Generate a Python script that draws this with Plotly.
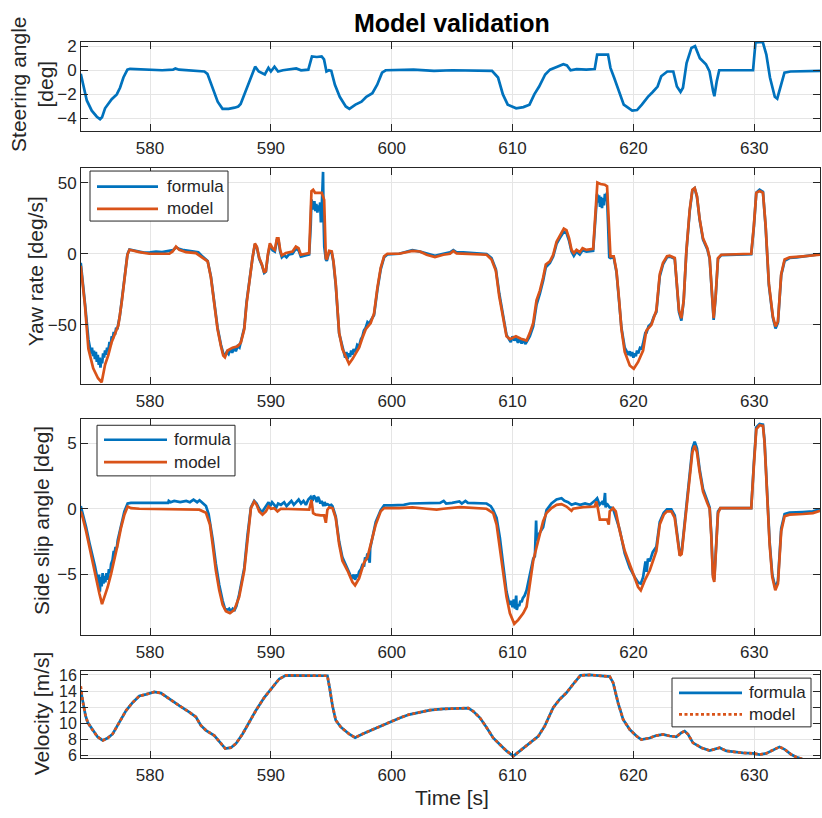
import plotly.graph_objects as go

# ---------------- data ----------------
steer_t = [574.27, 574.50, 574.77, 575.18, 575.60, 575.87, 576.03, 576.28, 576.55, 576.83, 577.25, 577.52,
           577.80, 578.13, 578.35, 579.50, 581.00, 581.90, 582.10, 582.40, 583.50, 584.50, 584.75, 585.10,
           585.60, 586.00, 586.50, 587.00, 587.30, 587.50, 587.90, 588.30, 588.70, 589.00, 589.50, 589.80,
           590.00, 590.30, 590.60, 591.00, 592.10, 592.50, 593.10, 593.40, 593.80, 594.20, 594.40, 594.60,
           594.80, 595.00, 595.30, 595.70, 596.20, 596.50, 597.00, 597.50, 597.90, 598.40, 598.80, 599.20,
           599.50, 601.80, 603.50, 605.00, 608.30, 608.80, 609.20, 609.60, 610.30, 610.90, 611.40, 611.80,
           612.20, 612.70, 613.10, 613.70, 614.20, 614.50, 614.80, 615.30, 616.10, 616.80, 617.00, 617.90,
           618.10, 618.40, 618.80, 619.20, 619.90, 620.30, 620.70, 621.20, 621.60, 622.00, 622.30, 622.80,
           623.30, 623.60, 623.90, 624.10, 624.40, 624.80, 625.10, 625.50, 626.00, 626.30, 626.60, 626.70,
           626.90, 627.10, 629.90, 630.10, 630.70, 631.00, 631.30, 631.70, 631.90, 632.20, 632.50, 633.00,
           635.44]
steer_formula = [-0.3, -1.2, -2.5, -3.35, -3.85, -4.05, -3.9, -3.15, -2.8, -2.4, -2.0, -1.45,
                 -0.6, 0.05, 0.12, 0.05, 0.0, 0.05, 0.15, 0.05, 0.0, -0.1, -0.3, -1.2,
                 -2.6, -3.2, -3.2, -3.1, -3.0, -2.8, -1.75, -0.6, 0.3, -0.1, -0.35, 0.2,
                 -0.1, 0.3, -0.1, 0.0, 0.15, 0.0, 0.05, 1.15, 1.1, 1.15, 0.9, -0.1,
                 0.0, -0.05, -1.2, -2.2, -3.0, -3.2, -2.85, -2.6, -2.2, -1.9, -1.2, -0.2,
                 0.0, 0.05, -0.05, 0.0, -0.05, -0.6, -2.0, -2.85, -3.15, -3.05, -2.85, -2.0,
                 -1.35, -0.35, 0.05, 0.3, 0.5, 0.4, 0.0, 0.1, 0.05, 0.1, 1.3, 1.3,
                 0.2, -0.6, -1.75, -2.85, -3.35, -3.3, -2.85, -2.2, -1.8, -1.35, -0.5, -0.1,
                 -0.1, -1.35, -1.8, -1.45, 0.6, 1.85, 2.0, 1.0, 0.5, -0.1, -1.75, -2.15,
                 -0.9, 0.0, 0.0, 2.3, 2.35, 1.3, -0.6, -2.2, -2.35, -1.2, -0.2, -0.1,
                 -0.05]

yaw_model_t = [574.27, 574.62, 574.90, 575.30, 575.70, 576.00, 576.28, 576.55, 576.83, 577.10, 577.38, 577.66,
               577.94, 578.13, 578.30, 578.60, 579.12, 579.94, 581.60, 581.87, 582.15, 582.42, 582.98, 583.80,
               584.35, 584.77, 585.04, 585.32, 585.59, 585.87, 586.06, 586.20, 586.42, 586.83, 587.25, 587.52,
               587.80, 587.99, 588.26, 588.48, 588.68, 588.84, 589.04, 589.26, 589.45, 589.59, 589.75, 589.92,
               590.14, 590.33, 590.50, 590.63, 590.77, 590.91, 591.24, 591.79, 592.07, 592.29, 592.48, 592.75,
               593.17, 593.36, 593.50, 593.66, 594.21, 594.41, 594.55, 594.63, 594.82, 595.04, 595.18, 595.37,
               595.65, 595.92, 596.20, 596.47, 596.75, 597.02, 597.30, 597.58, 597.85, 598.26, 598.54, 598.82,
               599.09, 599.37, 599.64, 600.61, 601.43, 601.71, 602.34, 602.89, 603.58, 604.27, 604.82, 605.10,
               605.37, 605.92, 607.85, 608.26, 608.62, 608.90, 609.17, 609.50, 609.78, 610.28, 610.69, 611.16,
               611.43, 611.71, 611.98, 612.26, 612.53, 612.75, 613.09, 613.36, 613.64, 613.91, 614.24, 614.46,
               614.68, 614.88, 615.07, 615.29, 615.56, 615.79, 616.12, 616.67, 616.86, 617.02, 617.27, 617.63,
               617.82, 617.96, 618.10, 618.37, 618.60, 618.82, 619.01, 619.28, 619.70, 620.03, 620.39, 620.80,
               621.07, 621.49, 621.90, 622.18, 622.45, 622.78, 623.00, 623.42, 623.55, 623.77, 623.97, 624.16,
               624.38, 624.66, 624.88, 625.07, 625.26, 625.48, 625.76, 626.12, 626.31, 626.50, 626.64, 626.80,
               627.00, 627.27, 629.75, 629.97, 630.17, 630.44, 630.72, 630.94, 631.21, 631.54, 631.76, 631.96,
               632.23, 632.51, 632.92, 634.02, 635.12, 635.44]
yaw_model = [-8.5, -36.5, -66.7, -80.5, -87.5, -90.3, -78, -71.3, -62, -56.2, -50.4, -34,
             -13.4, -0.7, 2.8, 2.1, 1.1, 0.0, 0.0, 1.6, 5.0, 2.7, 1.1, 0.5,
             -2.5, -5.3, -16.7, -37, -53, -65, -71.6, -72.8, -68, -66, -65, -62.5,
             -53, -35, -16.7, -3, 7.3, 5.0, -3, -7.5, -13.3, -12, -0.7, 7.3,
             3.9, 2.7, 10.8, 10.8, 2.7, -1.1, 0.5, 1.6, 5.0, 3.9, -0.7, -0.2,
             0.5, 44, 45, 42.8, 42.8, 38, -3, -4, 2, 1.6, -5.3, -21,
             -55.6, -67, -72.8, -77.3, -74, -70.5, -66, -59, -53, -48.7, -42, -23.6,
             -9.8, -1.8, 0.0, 0.0, 1.1, 2.0, 1.6, -0.7, -2.3, -0.7, 0.0, 2.0,
             0.2, 0.0, -0.7, -4, -12, -30, -44, -58, -60, -58, -59.7, -61,
             -55.6, -48.7, -32.7, -25.9, -16.7, -7.5, -5.3, -0.7, 8.5, 13, 17.6, 16.5,
             10.8, 2.7, 0.5, 2.7, 1.1, 3.9, 2.7, 3.4, 31, 50, 49, 48.5,
             47.4, 20, -1.8, -1.8, -12, -32.7, -53, -69, -78.5, -80.8, -76, -68,
             -54, -49.9, -39.6, -14.4, -6.4, -1.8, -1.4, -3, -16.7, -39.6, -45.3, -32.7,
             1.6, 31, 45, 46.2, 40.5, 24.5, 10.8, 3.9, -3, -30.4, -45.3, -30.4,
             -3, -0.7, 0.0, 20, 42.8, 44, 42.8, 20, -21, -44, -51, -47.6,
             -14.4, -4, -2.5, -1.8, -1.1, -0.7]

yaw_formula_t = [574.27, 574.44, 574.62, 574.90, 575.05, 575.12, 575.20, 575.28, 575.36, 575.44, 575.52, 575.60,
                 575.68, 575.76, 575.84, 575.90, 575.96, 576.04, 576.12, 576.20, 576.28, 576.36, 576.45, 576.55,
                 576.65, 576.75, 576.83, 576.92, 577.00, 577.10, 577.20, 577.30, 577.38, 577.50, 577.66, 577.80,
                 577.94, 578.13, 578.30, 578.60, 579.00, 579.50, 580.00, 580.50, 581.00, 581.50, 581.90, 582.15,
                 582.40, 582.80, 583.20, 583.60, 584.00, 584.35, 584.77, 585.04, 585.32, 585.59, 585.87, 586.06,
                 586.20, 586.35, 586.50, 586.65, 586.80, 586.95, 587.10, 587.25, 587.40, 587.52, 587.65, 587.80,
                 587.99, 588.26, 588.48, 588.68, 588.84, 589.04, 589.26, 589.45, 589.59, 589.75, 589.92, 590.14,
                 590.33, 590.50, 590.63, 590.77, 590.91, 591.10, 591.30, 591.50, 591.79, 592.07, 592.29, 592.48,
                 592.75, 593.17, 593.30, 593.36, 593.45, 593.52, 593.60, 593.68, 593.76, 593.85, 593.93, 594.00,
                 594.08, 594.14, 594.20, 594.26, 594.32, 594.36, 594.42, 594.55, 594.63, 594.82, 595.04, 595.18,
                 595.37, 595.65, 595.92, 596.05, 596.15, 596.25, 596.35, 596.45, 596.55, 596.65, 596.75, 596.85,
                 597.00, 597.15, 597.30, 597.45, 597.58, 597.70, 597.85, 598.00, 598.15, 598.26, 598.54, 598.82,
                 599.09, 599.37, 599.64, 600.60, 601.43, 601.71, 602.34, 602.89, 603.58, 604.27, 604.82, 605.10,
                 605.37, 605.92, 607.30, 607.85, 608.26, 608.62, 608.90, 609.17, 609.50, 609.70, 609.85, 610.00,
                 610.15, 610.30, 610.45, 610.60, 610.75, 610.90, 611.05, 611.16, 611.43, 611.71, 611.98, 612.26,
                 612.53, 612.75, 613.09, 613.36, 613.64, 613.91, 614.24, 614.46, 614.68, 614.88, 615.07, 615.29,
                 615.56, 615.79, 616.12, 616.67, 616.86, 617.00, 617.08, 617.16, 617.24, 617.32, 617.40, 617.48,
                 617.56, 617.64, 617.72, 617.80, 617.90, 618.00, 618.10, 618.37, 618.60, 618.82, 619.01, 619.28,
                 619.45, 619.60, 619.70, 619.80, 619.90, 620.00, 620.10, 620.20, 620.30, 620.40, 620.55, 620.70,
                 620.80, 621.00, 621.07, 621.25, 621.49, 621.70, 621.90, 622.18, 622.45, 622.78, 623.00, 623.42,
                 623.55, 623.77, 623.97, 624.16, 624.38, 624.66, 624.88, 625.07, 625.26, 625.48, 625.76, 626.12,
                 626.31, 626.50, 626.64, 626.80, 627.00, 627.27, 629.75, 629.97, 630.17, 630.44, 630.72, 630.94,
                 631.21, 631.54, 631.76, 631.96, 632.23, 632.51, 632.92, 633.50, 634.02, 634.60, 635.12, 635.44]
yaw_formula = [-6.4, -19, -35, -60, -67, -70, -66, -72, -68, -74, -69, -76,
               -71, -78, -73, -80, -74, -77, -70, -73, -68, -71, -66, -68,
               -62, -64, -58, -60, -55, -57, -52, -53, -49, -44, -33, -22,
               -12, -0.5, 3, 2.5, 1.5, 0.8, 1.0, 1.5, 1.2, 2.0, 2.5, 4.5,
               3.5, 2.5, 2.0, 1.5, 1.0, -2, -5, -16, -36, -52, -64, -70,
               -71.5, -69, -70.5, -67, -69.5, -66, -68.5, -65, -66, -61, -57, -52,
               -34, -16, -3, 6.5, 4.5, -3.5, -8, -13.5, -12.5, -1.5, 6, 2.5,
               1.5, 9.5, 9.5, 1.5, -2.5, -1, -2.5, -0.5, 0, 3.5, 2.5, -2,
               -1.5, -0.5, 20, 38, 35, 31, 37, 30, 35, 29, 34, 30,
               36, 22, 30, 55, 57.5, 25, 5, -4, -5, 1, 0.5, -6,
               -22, -56, -66, -70, -73, -69, -74, -70, -72.5, -68, -71, -67,
               -69, -64, -65, -60, -58, -54, -52, -48, -49, -47, -43, -25,
               -11, -2.5, -0.5, 0, 1.5, 2.5, 1.5, 0, -1.5, 0, 1, 2.5,
               1, 1, 0.5, -0.2, -3, -11, -28, -42, -57, -60, -62, -58,
               -61, -59, -62.5, -60, -63, -60, -63.5, -62, -58, -51, -36, -28,
               -19, -9.5, -6.5, -2, 7, 11, 15.5, 14.5, 9, 1.5, -1.5, 1.5,
               -0.5, 2.5, 1.5, 2, 28, 42, 36, 41, 33, 40, 32, 39,
               34, 42, 37, 43, 22, -2.5, -3, -2.5, -13, -33, -52, -66,
               -69, -71, -68.5, -72, -69, -73, -70, -72, -68, -70, -66, -66.5,
               -63, -55, -56, -51, -49, -44, -41, -16, -7.5, -2.5, -2, -3.5,
               -17, -41, -47, -33, 1, 30, 44.5, 46, 40, 24, 10, 3,
               -3.5, -31, -46.5, -31, -3.5, -1, -0.3, 19, 43, 45, 43.5, 19,
               -22, -45, -52.5, -48.5, -15, -5, -3, -2.5, -2, -1.5, -1, -0.3]

slip_model_t = [574.27, 574.44, 574.71, 574.99, 575.26, 575.54, 575.81, 576.03, 576.23, 576.50, 576.78, 577.05,
                577.33, 577.60, 577.88, 578.15, 578.43, 579.12, 584.08, 584.63, 584.96, 585.18, 585.45, 585.73,
                586.01, 586.28, 586.61, 586.97, 587.38, 587.80, 588.07, 588.35, 588.62, 588.82, 589.04, 589.31,
                589.59, 589.81, 590.00, 590.28, 590.55, 590.83, 593.17, 593.36, 593.50, 593.72, 594.13, 594.41,
                594.55, 594.68, 594.82, 595.10, 595.37, 595.65, 595.92, 596.34, 596.75, 596.97, 597.30, 597.71,
                597.99, 598.26, 598.68, 599.09, 599.37, 600.61, 601.71, 602.89, 603.72, 604.27, 605.65, 607.85,
                608.40, 608.68, 608.95, 609.23, 609.50, 609.78, 610.14, 610.47, 610.88, 611.16, 611.43, 611.71,
                611.98, 612.26, 612.53, 612.81, 613.22, 613.64, 614.05, 614.46, 614.88, 615.01, 615.84, 616.80,
                616.94, 617.08, 617.22, 617.82, 617.96, 618.04, 618.32, 618.54, 618.87, 619.28, 619.70, 620.11,
                620.39, 620.61, 620.94, 621.35, 621.90, 622.18, 622.51, 622.78, 623.14, 623.42, 623.64, 623.83,
                623.99, 624.19, 624.38, 624.66, 624.88, 625.07, 625.26, 625.48, 625.76, 626.12, 626.31, 626.45,
                626.58, 626.69, 626.80, 627.00, 627.19, 629.75, 629.97, 630.17, 630.44, 630.72, 630.85, 631.05,
                631.27, 631.49, 631.74, 631.96, 632.23, 632.51, 632.92, 634.02, 634.85, 635.44]
slip_model = [-0.2, -0.7, -1.7, -2.95, -3.95, -5.2, -6.45, -7.25, -6.7, -5.95, -4.95, -3.95,
              -2.7, -1.45, -0.45, 0.17, 0.05, 0.0, -0.07, -0.3, -1.2, -2.7, -4.7, -6.2,
              -7.3, -7.8, -7.95, -7.7, -6.7, -4.7, -2.2, 0.05, 0.55, 0.3, -0.2, -0.45,
              -0.2, 0.17, 0.0, 0.05, -0.2, 0.0, -0.07, 0.67, -0.33, -0.45, -0.5, -0.5,
              -1.07, -0.07, 0.1, 0.05, -0.7, -2.7, -3.95, -4.7, -5.57, -5.82, -5.3, -4.1,
              -3.7, -2.7, -1.2, -0.2, 0.05, 0.05, 0.1, 0.0, -0.07, 0.0, 0.12, 0.0,
              -0.33, -1.2, -2.95, -4.95, -6.7, -7.95, -8.75, -8.45, -7.95, -7.45, -5.7, -3.95,
              -2.95, -1.95, -0.95, -0.33, 0.05, 0.3, 0.35, 0.17, -0.15, 0.0, 0.12, 0.17,
              0.55, -0.07, -0.82, -0.82, -1.2, -0.2, 0.05, -0.2, -1.7, -3.2, -4.2, -5.2,
              -5.95, -6.2, -5.45, -4.7, -3.2, -1.2, -0.45, -0.2, -0.2, -0.7, -2.2, -3.57,
              -3.45, -1.7, 0.3, 2.55, 4.3, 4.8, 4.3, 2.8, 1.3, 0.42, 0.0, -2.2,
              -5.2, -5.57, -3.45, -0.33, 0.05, 0.05, 3.3, 6.05, 6.35, 6.3, 5.05, 0.8,
              -2.7, -5.2, -6.2, -5.7, -1.7, -0.57, -0.45, -0.4, -0.33, -0.15]

slip_formula_t = [574.27, 574.44, 574.71, 574.99, 575.26, 575.45, 575.60, 575.70, 575.78, 575.85, 575.92, 576.00,
                  576.08, 576.15, 576.22, 576.30, 576.40, 576.50, 576.60, 576.70, 576.78, 576.90, 577.00, 577.05,
                  577.15, 577.25, 577.33, 577.60, 577.88, 578.15, 578.43, 579.50, 581.50, 581.55, 581.70, 582.00,
                  582.50, 583.00, 583.30, 583.60, 583.90, 584.10, 584.40, 584.63, 584.85, 585.00, 585.18, 585.45,
                  585.73, 586.01, 586.20, 586.40, 586.55, 586.70, 586.85, 587.00, 587.15, 587.38, 587.80, 588.07,
                  588.35, 588.62, 588.82, 589.04, 589.20, 589.31, 589.50, 589.65, 589.81, 589.95, 590.10, 590.28,
                  590.45, 590.60, 590.83, 591.10, 591.30, 591.50, 591.70, 591.90, 592.10, 592.30, 592.50, 592.70,
                  592.90, 593.10, 593.30, 593.45, 593.55, 593.70, 593.80, 593.90, 594.00, 594.10, 594.20, 594.35,
                  594.45, 594.55, 594.70, 594.85, 595.00, 595.10, 595.37, 595.65, 595.92, 596.20, 596.34, 596.50,
                  596.60, 596.75, 596.85, 596.97, 597.10, 597.20, 597.30, 597.45, 597.60, 597.71, 597.80, 597.90,
                  597.99, 598.10, 598.18, 598.22, 598.35, 598.68, 599.09, 599.37, 600.00, 601.00, 601.50, 602.00,
                  603.00, 604.00, 604.30, 604.50, 605.00, 605.60, 605.80, 606.10, 606.30, 607.00, 607.85, 608.20,
                  608.40, 608.68, 608.95, 609.23, 609.50, 609.70, 609.80, 609.90, 610.00, 610.10, 610.20, 610.30,
                  610.35, 610.45, 610.55, 610.65, 610.75, 610.85, 611.00, 611.16, 611.43, 611.60, 611.71, 611.85,
                  611.95, 612.00, 612.20, 612.53, 612.81, 613.22, 613.64, 614.05, 614.30, 614.60, 614.88, 615.20,
                  615.60, 616.00, 616.40, 616.80, 617.00, 617.20, 617.40, 617.55, 617.65, 617.70, 617.80, 618.04,
                  618.30, 618.60, 618.87, 619.28, 619.70, 620.11, 620.39, 620.61, 620.80, 621.00, 621.10, 621.20,
                  621.35, 621.60, 621.90, 622.18, 622.51, 622.78, 623.14, 623.42, 623.64, 623.83, 623.99, 624.19,
                  624.38, 624.66, 624.88, 625.07, 625.26, 625.48, 625.76, 626.12, 626.31, 626.45, 626.58, 626.69,
                  626.80, 627.00, 627.19, 629.75, 629.97, 630.17, 630.44, 630.72, 630.85, 631.05, 631.27, 631.49,
                  631.74, 631.96, 632.23, 632.51, 632.92, 634.02, 634.85, 635.44]
slip_formula = [0.2, -0.4, -1.4, -2.6, -3.6, -4.4, -5.1, -5.6, -5.0, -6.3, -5.2, -5.9,
                -4.9, -5.7, -5.1, -5.6, -4.9, -5.4, -4.6, -4.9, -4.2, -3.9, -3.2, -3.5,
                -2.9, -3.0, -2.4, -1.2, -0.2, 0.4, 0.45, 0.45, 0.45, 0.6, 0.5, 0.6,
                0.5, 0.6, 0.5, 0.7, 0.5, 0.65, 0.4, 0.2, -0.4, -1.2, -2.3, -4.2,
                -5.8, -7.0, -7.6, -7.7, -7.6, -7.8, -7.6, -7.7, -7.4, -6.5, -4.5, -2.0,
                0.1, 0.6, 0.4, 0.0, -0.2, -0.2, 0.1, 0.3, 0.5, 0.2, 0.5, 0.3,
                0.1, 0.4, 0.3, 0.5, 0.2, 0.4, 0.6, 0.3, 0.5, 0.7, 0.4, 0.6,
                0.3, 0.7, 0.9, 0.6, 1.0, 0.8, 0.5, 0.9, 0.7, 0.4, 0.6, 0.2,
                0.5, 0.3, 0.35, 0.25, 0.3, 0.2, -0.6, -2.5, -3.7, -4.3, -4.5, -4.9,
                -5.1, -5.2, -5.0, -5.4, -5.0, -5.2, -4.8, -4.6, -4.2, -4.4, -3.7, -3.9,
                -3.4, -3.7, -4.1, -3.0, -2.4, -1.0, -0.1, 0.25, 0.25, 0.3, 0.4, 0.4,
                0.4, 0.45, 0.6, 0.4, 0.45, 0.55, 0.4, 0.6, 0.45, 0.45, 0.4, 0.2,
                -0.1, -0.7, -2.2, -4.3, -6.3, -7.1, -7.3, -7.0, -7.5, -6.9, -7.6, -6.6,
                -7.7, -7.3, -7.4, -7.0, -7.1, -6.8, -6.6, -6.2, -5.0, -4.1, -3.8, -3.6,
                -0.9, -2.4, -1.9, -1.4, -0.1, 0.4, 0.7, 0.8, 0.6, 0.5, 0.3, 0.4,
                0.3, 0.4, 0.3, 0.6, 0.8, 0.3, 0.5, 0.3, 1.2, 0.1, 0.4, 0.1,
                0.05, -0.8, -1.6, -3.4, -4.5, -5.2, -5.6, -5.7, -5.2, -4.0, -4.8, -3.8,
                -4.0, -3.3, -2.9, -1.0, -0.3, -0.05, -0.05, -0.5, -2.0, -3.4, -3.3, -1.5,
                0.5, 2.8, 4.6, 5.1, 4.6, 3.0, 1.5, 0.6, 0.1, -2.0, -5.0, -5.4,
                -3.3, -0.2, 0.05, 0.05, 3.5, 6.2, 6.45, 6.4, 5.2, 0.9, -2.5, -5.0,
                -6.0, -5.5, -1.5, -0.4, -0.3, -0.25, -0.2, -0.05]

vel_t = [574.27, 574.44, 574.66, 574.85, 575.26, 575.67, 576.09, 576.50, 576.91, 577.47, 578.02, 578.57,
         579.12, 579.67, 580.36, 580.91, 581.60, 582.42, 583.25, 583.80, 584.21, 584.63, 585.32, 585.87,
         586.23, 586.69, 587.11, 587.66, 588.21, 588.76, 589.45, 590.00, 590.69, 591.24, 592.34, 593.72,
         594.68, 594.88, 595.10, 595.37, 595.79, 596.47, 596.97, 597.58, 598.26, 598.95, 599.78, 600.61,
         601.43, 602.34, 603.17, 604.27, 605.37, 606.34, 606.75, 607.30, 607.85, 608.40, 608.95, 609.50,
         610.06, 610.61, 611.29, 612.12, 612.67, 612.95, 613.36, 613.91, 614.46, 615.01, 615.62, 616.39,
         617.36, 618.04, 618.32, 618.73, 619.15, 619.70, 620.25, 620.66, 621.35, 621.90, 622.45, 623.00,
         623.55, 623.97, 624.24, 624.52, 624.93, 625.62, 626.31, 626.72, 627.14, 627.69, 628.37, 629.06,
         629.89, 630.44, 630.99, 631.54, 632.09, 632.51, 633.06, 633.47, 633.97]
vel_formula = [14.1, 12.6, 11.0, 10.1, 9.15, 8.33, 7.9, 8.2, 8.7, 10.2, 11.6, 12.6,
               13.4, 13.6, 13.9, 13.75, 13.0, 12.2, 11.4, 10.8, 9.75, 9.15, 8.5, 7.5,
               6.9, 7.0, 7.5, 8.7, 10.2, 11.6, 13.2, 14.2, 15.5, 15.95, 15.95, 15.9,
               15.9, 14.25, 12.2, 10.4, 9.55, 8.7, 8.25, 8.7, 9.15, 9.55, 10.1, 10.65,
               11.1, 11.4, 11.65, 11.8, 11.85, 11.9, 11.5, 10.7, 9.5, 8.2, 7.4, 6.6,
               5.95, 6.6, 7.4, 8.4, 9.7, 10.7, 11.95, 13.0, 13.8, 14.85, 15.95, 16.0,
               15.9, 15.8, 15.05, 12.55, 10.5, 9.25, 8.45, 8.0, 8.2, 8.5, 8.65, 8.45,
               8.35, 8.85, 9.05, 8.65, 7.6, 7.0, 6.65, 6.8, 7.0, 6.6, 6.45, 6.35,
               6.3, 6.15, 6.3, 6.7, 7.1, 6.8, 6.15, 5.85, 5.6]
vel_model = [14.6, 12.7, 11.0, 10.1, 9.15, 8.33, 7.9, 8.2, 8.7, 10.2, 11.6, 12.6,
             13.4, 13.6, 13.9, 13.75, 13.0, 12.2, 11.4, 10.8, 9.75, 9.15, 8.5, 7.5,
             6.9, 7.0, 7.5, 8.7, 10.2, 11.6, 13.2, 14.2, 15.5, 15.95, 15.95, 15.9,
             15.9, 14.25, 12.2, 10.4, 9.55, 8.7, 8.25, 8.7, 9.15, 9.55, 10.1, 10.65,
             11.1, 11.4, 11.65, 11.8, 11.85, 11.9, 11.5, 10.7, 9.5, 8.2, 7.4, 6.6,
             5.95, 6.6, 7.4, 8.4, 9.7, 10.7, 11.95, 13.0, 13.8, 14.85, 15.95, 16.0,
             15.9, 15.8, 15.05, 12.55, 10.5, 9.25, 8.45, 8.0, 8.2, 8.5, 8.65, 8.45,
             8.35, 8.85, 9.05, 8.65, 7.6, 7.0, 6.65, 6.8, 7.0, 6.6, 6.45, 6.35,
             6.3, 6.15, 6.3, 6.7, 7.1, 6.8, 6.15, 5.85, 5.6]

series_names = ["formula", "model"]
x_ticks = [580, 590, 600, 610, 620, 630]

# ---------------- styling ----------------
BLUE = "#0072BD"
ORANGE = "#D95319"
INK = "#262626"
GRID = "#e5e5e5"
FONT = "Liberation Sans, Arial, Helvetica, sans-serif"
W, H = 822, 818
ML, MR, MT, MB = 81, 2, 0, 0
X_RANGE = [574.29, 635.44]


def px_x(px):
    return (px - ML) / (W - ML - MR)


def px_y(py):
    return (H - MB - py) / (H - MT - MB)


panels = [
    # (y top px, y bottom px, y range, y ticks, tick font size)
    (37.3, 127.3, [-5.0, 2.36], [-4, -2, 0, 2], 17),
    (165.0, 384.0, [-91.4, 60.4], [-50, 0, 50], 17),
    (420.0, 638.3, [-9.58, 6.8], [-5, 0, 5], 17),
    (675.0, 763.3, [5.72, 16.5], [6, 8, 10, 12, 14, 16], 16),
]

fig = go.Figure()

LW = 2.7
traces = [
    (1, steer_t, steer_formula, BLUE, "solid", series_names[0]),
    (2, yaw_formula_t, yaw_formula, BLUE, "solid", series_names[0]),
    (2, yaw_model_t, yaw_model, ORANGE, "solid", series_names[1]),
    (3, slip_formula_t, slip_formula, BLUE, "solid", series_names[0]),
    (3, slip_model_t, slip_model, ORANGE, "solid", series_names[1]),
    (4, vel_t, vel_formula, BLUE, "solid", series_names[0]),
    (4, vel_t, vel_model, ORANGE, "3px,2.5px", series_names[1]),
]
for idx, xs, ys, color, dash, name in traces:
    sfx = "" if idx == 1 else str(idx)
    fig.add_trace(go.Scatter(
        x=xs, y=ys, mode="lines", name=name, showlegend=False,
        line=dict(color=color, width=LW, dash=dash),
        xaxis="x" + sfx, yaxis="y" + sfx,
    ))

common = dict(showline=True, linecolor=INK, linewidth=1, mirror="allticks",
              ticks="inside", ticklen=7, tickwidth=1, tickcolor=INK,
              showgrid=True, gridcolor=GRID, gridwidth=1, zeroline=False)

layout = dict(
    width=W, height=H, paper_bgcolor="white", plot_bgcolor="white",
    margin=dict(l=ML, r=MR, t=MT, b=MB), showlegend=False,
    font=dict(family=FONT, color=INK),
)
for i, (top, bot, yr, yt, yfs) in enumerate(panels, start=1):
    sfx = "" if i == 1 else str(i)
    layout["xaxis" + sfx] = dict(common, domain=[0, 1], range=X_RANGE, tickvals=x_ticks,
                                 anchor="y" + sfx, ticklabelstandoff=2,
                                 tickfont=dict(family=FONT, size=17, color=INK))
    layout["yaxis" + sfx] = dict(common, domain=[px_y(bot), px_y(top)], range=yr, tickvals=yt,
                                 anchor="x" + sfx, tickfont=dict(family=FONT, size=yfs, color=INK))
fig.update_layout(**layout)

annotations = []
shapes = []

# title and axis labels
annotations.append(dict(text="<b>Model validation</b>", x=px_x(452), y=px_y(18), xref="paper", yref="paper",
                        showarrow=False, font=dict(size=25, family=FONT, color="black"),
                        xanchor="center", yanchor="middle"))
ylabels = [("Steering angle<br>[deg]", 32, 80), ("Yaw rate [deg/s]", 35, 270),
           ("Side slip angle [deg]", 42, 523), ("Velocity [m/s]", 41, 718)]
for text, cx, cy in ylabels:
    annotations.append(dict(text=text, x=px_x(cx), y=px_y(cy), xref="paper", yref="paper",
                            showarrow=False, textangle=-90, font=dict(size=21, family=FONT, color=INK),
                            xanchor="center", yanchor="middle"))
annotations.append(dict(text="Time [s]", x=px_x(452), y=px_y(803), xref="paper", yref="paper",
                        showarrow=False, font=dict(size=21, family=FONT, color=INK),
                        xanchor="center", yanchor="middle"))

# legend boxes: (box x0, x1, y0, y1, line x0, x1, text x, row y's, model dash)
legends = [
    (90, 228, 168.3, 219, 97, 158, 165, (184, 206.7), "solid"),
    (97, 235, 426, 477.3, 104, 167, 172, (440.7, 463.3), "solid"),
    (672, 811, 682.3, 731.7, 679, 742, 747, (697.3, 719), "3px,2.5px"),
]
for bx0, bx1, by0, by1, lx0, lx1, tx, rows, mdash in legends:
    shapes.append(dict(type="rect", xref="paper", yref="paper", x0=px_x(bx0), x1=px_x(bx1),
                       y0=px_y(by1), y1=px_y(by0), line=dict(color=INK, width=1), fillcolor="white",
                       layer="above"))
    for name, color, dash, ry in zip(series_names, [BLUE, ORANGE], ["solid", mdash], rows):
        shapes.append(dict(type="line", xref="paper", yref="paper", x0=px_x(lx0), x1=px_x(lx1),
                           y0=px_y(ry), y1=px_y(ry), line=dict(color=color, width=LW, dash=dash),
                           layer="above"))
        annotations.append(dict(text=name, x=px_x(tx), y=px_y(ry), xref="paper", yref="paper",
                                showarrow=False, font=dict(size=17, family=FONT, color=INK),
                                xanchor="left", yanchor="middle"))

fig.update_layout(annotations=annotations, shapes=shapes)
fig.write_html("out.html")
